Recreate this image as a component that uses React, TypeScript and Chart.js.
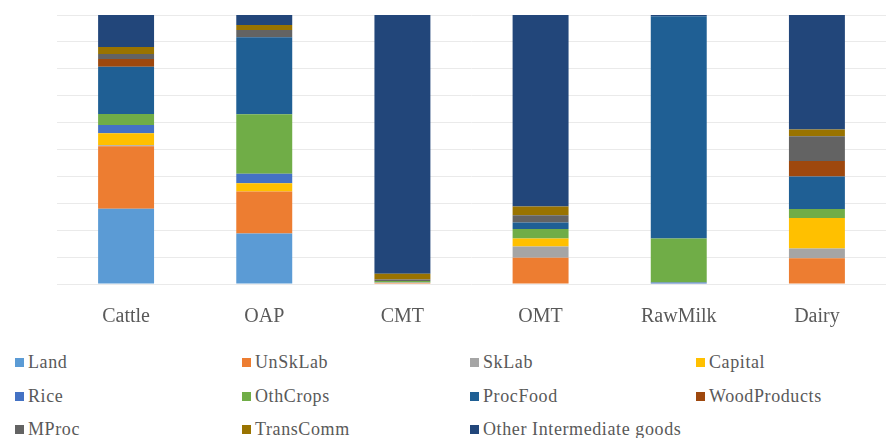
import React, { useEffect, useRef } from "react";
import { Chart, registerables } from "chart.js";

Chart.register(...registerables);

const categories = ["Cattle", "OAP", "CMT", "OMT", "RawMilk", "Dairy"];

const seriesNames = [
  "Land",
  "UnSkLab",
  "SkLab",
  "Capital",
  "Rice",
  "OthCrops",
  "ProcFood",
  "WoodProducts",
  "MProc",
  "TransComm",
  "Other Intermediate goods",
];

const seriesColors = [
  "#5B9BD5",
  "#ED7D31",
  "#A5A5A5",
  "#FFC000",
  "#4472C4",
  "#70AD47",
  "#1F5F94",
  "#9E480E",
  "#636363",
  "#997300",
  "#22467A",
];

// values in % for Cattle, OAP, CMT, OMT, RawMilk, Dairy
const land = [28.0, 18.8, 0, 0, 0, 0];
const unSkLab = [23.2, 15.6, 0.4, 9.8, 0, 9.6];
const skLab = [0.4, 0, 0.2, 4.1, 0, 3.6];
const capital = [4.4, 3.1, 0, 3.0, 0, 11.3];
const rice = [3.1, 3.5, 0, 0, 0.6, 0];
const othCrops = [4.1, 22.1, 0.5, 3.5, 16.3, 3.4];
const procFood = [17.6, 28.6, 0, 2.5, 82.6, 12.1];
const woodProducts = [2.8, 0, 0, 0, 0, 5.7];
const mProc = [1.9, 2.7, 0.6, 2.7, 0, 9.2];
const transComm = [2.6, 1.9, 2.1, 3.2, 0, 2.5];
const otherIntermediate = [11.9, 3.7, 96.2, 71.2, 0.5, 42.6];

const seriesValues = [
  land,
  unSkLab,
  skLab,
  capital,
  rice,
  othCrops,
  procFood,
  woodProducts,
  mProc,
  transComm,
  otherIntermediate,
];

const FONT = "'Liberation Serif', serif";

export default function App() {
  const canvasRef = useRef<HTMLCanvasElement | null>(null);

  useEffect(() => {
    const canvas = canvasRef.current;
    if (!canvas) return;
    const chart = new Chart(canvas, {
      type: "bar",
      data: {
        labels: categories,
        datasets: seriesNames.map((name, i) => ({
          label: name,
          data: seriesValues[i],
          backgroundColor: seriesColors[i],
          borderWidth: 0,
          categoryPercentage: 1,
          barPercentage: 0.405,
        })),
      },
      options: {
        responsive: false,
        animation: false,
        maintainAspectRatio: false,
        layout: { padding: { left: 57, right: 0, top: 15, bottom: 0 } },
        plugins: {
          legend: { display: false },
          tooltip: { enabled: false },
        },
        scales: {
          x: {
            stacked: true,
            grid: { display: false, drawTicks: false },
            border: { display: false },
            ticks: {
              color: "#595959",
              font: { family: FONT, size: 20 },
              padding: 21,
            },
          },
          y: {
            stacked: true,
            min: 0,
            max: 100,
            grid: { color: "#EAEAEA", lineWidth: 1, drawTicks: false },
            border: { display: false },
            ticks: { display: false, stepSize: 10 },
          },
        },
      },
    });
    return () => chart.destroy();
  }, []);

  const colLeft = [15, 242, 470, 696];
  const rowTop = [362, 396, 429];

  return (
    <div
      style={{
        position: "fixed",
        left: 0,
        top: 0,
        width: 886,
        height: 438,
        background: "#ffffff",
        overflow: "hidden",
      }}
    >
      <canvas
        ref={canvasRef}
        width={886}
        height={350}
        style={{ position: "absolute", left: 0, top: 0, width: 886, height: 350 }}
      />
      {seriesNames.map((name, i) => {
        const col = i % 4;
        const row = Math.floor(i / 4);
        return (
          <div
            key={name}
            style={{
              position: "absolute",
              left: colLeft[col],
              top: rowTop[row] - 11,
              height: 22,
              display: "flex",
              alignItems: "center",
              whiteSpace: "nowrap",
              fontFamily: FONT,
              fontSize: 18,
              letterSpacing: 0.6,
              color: "#595959",
            }}
          >
            <span
              style={{
                display: "inline-block",
                width: 9,
                height: 9,
                background: seriesColors[i],
                marginRight: 4,
              }}
            />
            <span>{name}</span>
          </div>
        );
      })}
    </div>
  );
}
